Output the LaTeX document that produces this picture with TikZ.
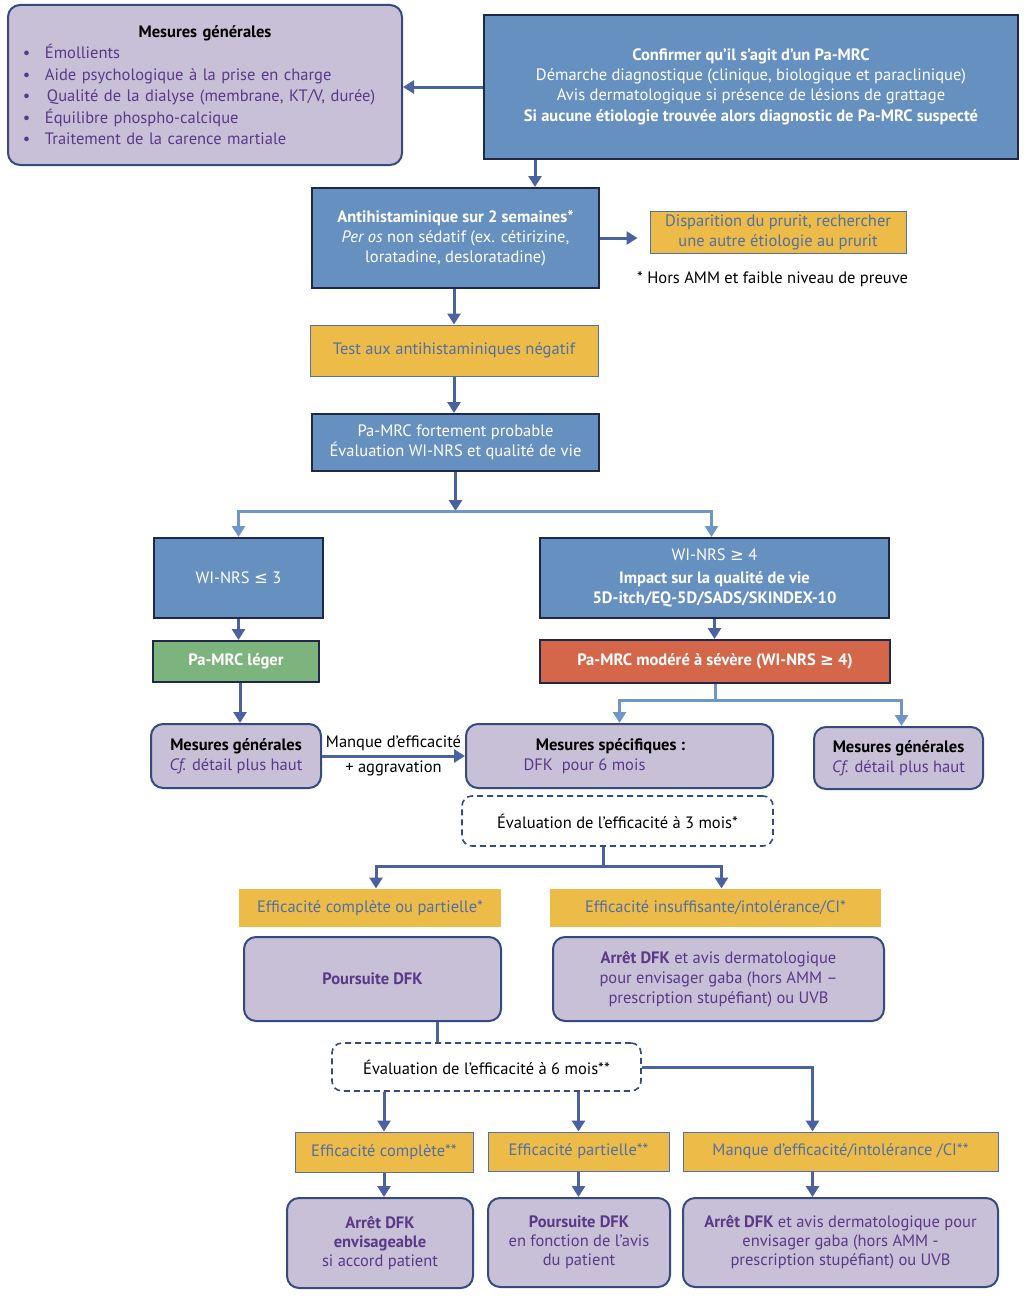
\documentclass[tikz,border=0pt]{standalone}
\usepackage{fontspec}
\setmainfont{PT Sans}
\newfontfamily\symfont{DejaVu Sans}
\usepackage{tikz}
\usetikzlibrary{arrows.meta}

\definecolor{boxblue}{RGB}{102,144,191}
\definecolor{navy}{RGB}{30,40,72}
\definecolor{lilac}{RGB}{199,192,214}
\definecolor{softline}{RGB}{52,74,128}
\definecolor{plum}{RGB}{92,56,136}
\definecolor{gold}{RGB}{236,187,72}
\definecolor{slate}{RGB}{82,112,162}
\definecolor{leaf}{RGB}{125,180,125}
\definecolor{brick}{RGB}{212,102,74}
\definecolor{arrowblue}{RGB}{74,98,160}
\definecolor{skyline}{RGB}{110,150,200}

\newcommand{\boxfont}{\fontsize{16.5}{20}\selectfont}
\newcommand{\leqsym}{{\symfont ≤}}
\newcommand{\geqsym}{{\symfont ≥}}

\begin{document}
\begin{tikzpicture}[x=1pt,y=-1pt]
        \tikzstyle{every node}=[inner sep=0pt, font=\boxfont]
        \tikzstyle{bluebox}=[draw=navy, line width=2pt, fill=boxblue, text=white, align=center]
        \tikzstyle{softbox}=[draw=softline, line width=2pt, fill=lilac, text=plum, rounded corners=12pt, align=center]
        \tikzstyle{goldbox}=[draw=slate, line width=1pt, fill=gold, text=slate, align=center]
        \tikzstyle{evalbox}=[draw=softline, line width=1.6pt, dash pattern=on 6pt off 4pt, rounded corners=10pt, fill=white, align=center]
        \tikzstyle{arr}=[draw=arrowblue, line width=3pt, -{Triangle[width=13pt,length=11pt]}]
        \tikzstyle{lightarr}=[draw=skyline, line width=3pt, -{Triangle[width=13pt,length=11pt]}]
        \tikzstyle{link}=[draw=arrowblue, line width=3pt]

        \fill[white] (0,0) rectangle (1027,1298);

        % top row
        \node[softbox, minimum width=394pt, minimum height=160pt, text width=372pt, align=left, font=\fontsize{16.5}{21.5}\selectfont] (gen1) at (205,85) {%
            \makebox[372pt][c]{\textcolor{black}{\bfseries Mesures générales}}\\
            \hspace*{4pt}\makebox[22pt][l]{\textbullet}Émollients\\
            \hspace*{4pt}\makebox[22pt][l]{\textbullet}Aide psychologique à la prise en charge\\
            \hspace*{4pt}\makebox[24pt][l]{\textbullet}Qualité de la dialyse (membrane, KT/V, durée)\\
            \hspace*{4pt}\makebox[22pt][l]{\textbullet}Équilibre phospho-calcique\\
            \hspace*{4pt}\makebox[22pt][l]{\textbullet}Traitement de la carence martiale};
        \node[bluebox, minimum width=534pt, minimum height=144pt] (confirm) at (751,87) {\textbf{Confirmer qu'il s'agit d'un Pa-MRC}\\ Démarche diagnostique (clinique, biologique et paraclinique)\\ Avis dermatologique si présence de lésions de grattage\\[1.5pt] \textbf{Si aucune étiologie trouvée alors diagnostic de Pa-MRC suspecté}};

        % antihistaminiques
        \node[bluebox, minimum width=287pt, minimum height=100pt] (antihist) at (455.5,238) {\textbf{Antihistaminique sur 2 semaines*}\\ \textit{Per os} non sédatif (ex. cétirizine,\\ loratadine, desloratadine)};
        \node[goldbox, minimum width=256pt, minimum height=42pt] (disp) at (778,232) {Disparition du prurit, rechercher\\ une autre étiologie au prurit};
        \node[anchor=west, text=black] (note) at (637,279) {* Hors AMM et faible niveau de preuve};
        \node[goldbox, minimum width=288pt, minimum height=51pt] (test) at (454,350.5) {Test aux antihistaminiques négatif};
        \node[bluebox, minimum width=287pt, minimum height=57pt] (probable) at (455.5,442.5) {Pa-MRC fortement probable\\ Évaluation WI-NRS et qualité de vie};

        % severite
        \node[bluebox, minimum width=169pt, minimum height=80pt] (winrs3) at (238.5,578) {WI-NRS \leqsym\ 3};
        \node[bluebox, minimum width=349pt, minimum height=80pt] (winrs4) at (714.5,578) {WI-NRS \geqsym\ 4\\[3pt] \textbf{Impact sur la qualité de vie}\\ \textbf{5D-itch/EQ-5D/SADS/SKINDEX-10}};
        \node[bluebox, fill=leaf, minimum width=166pt, minimum height=41pt] (leger) at (236,661.5) {\textbf{Pa-MRC léger}};
        \node[bluebox, fill=brick, minimum width=350pt, minimum height=43pt] (modere) at (715,661.5) {\textbf{Pa-MRC modéré à sévère (WI-NRS \geqsym\ 4)}};

        % mesures
        \node[softbox, minimum width=170pt, minimum height=64pt] (gen2) at (236,756) {\textcolor{black}{\textbf{Mesures générales}}\\ \textit{Cf.} détail plus haut};
        \node[softbox, minimum width=307pt, minimum height=64pt] (spec) at (619.5,756) {\textcolor{black}{\textbf{Mesures spécifiques :}}\hspace*{18pt}\\ DFK\ \ pour 6 mois\hspace*{70pt}};
        \node[softbox, minimum width=169pt, minimum height=62pt] (gen3) at (898.5,758) {\textcolor{black}{\textbf{Mesures générales}}\\ \textit{Cf.} détail plus haut};
        \node[evalbox, minimum width=311pt, minimum height=50pt] (eval3) at (617.5,821) {Évaluation de l'efficacité à 3 mois*};

        % 3 mois
        \node[goldbox, draw=none, minimum width=262pt, minimum height=38pt] (compl) at (370,908) {Efficacité complète ou partielle*};
        \node[goldbox, draw=none, minimum width=331pt, minimum height=38pt] (insuff) at (715.5,908) {Efficacité insuffisante/intolérance/CI*};
        \node[softbox, minimum width=257pt, minimum height=84pt] (poursuite) at (372.5,979) {\textbf{Poursuite DFK}};
        \node[softbox, minimum width=331pt, minimum height=84pt] (arret1) at (718.5,979) {\textbf{Arrêt DFK} et avis dermatologique\\ pour envisager gaba (hors AMM –\\ prescription stupéfiant) ou UVB};
        \node[evalbox, minimum width=309pt, minimum height=48pt] (eval6) at (486.5,1067) {Évaluation de l'efficacité à 6 mois**};

        % 6 mois
        \node[goldbox, minimum width=178pt, minimum height=40pt] (ec) at (384,1152) {Efficacité complète**};
        \node[goldbox, minimum width=181pt, minimum height=39pt] (ep) at (578.5,1151.5) {Efficacité partielle**};
        \node[goldbox, minimum width=315pt, minimum height=39pt] (mi) at (840.5,1151.5) {Manque d’efficacité/intolérance /CI**};
        \node[softbox, minimum width=186pt, minimum height=90pt, font=\fontsize{16.5}{19}\selectfont] (r1) at (380,1243) {\textbf{Arrêt DFK}\\ \textbf{envisageable}\\ si accord patient};
        \node[softbox, minimum width=182pt, minimum height=89pt, font=\fontsize{16.5}{19}\selectfont] (r2) at (579,1242.5) {\textbf{Poursuite DFK}\\ en fonction de l'avis\\ du patient};
        \node[softbox, minimum width=315pt, minimum height=89pt, font=\fontsize{16.5}{19}\selectfont] (r3) at (840.5,1242.5) {\textbf{Arrêt DFK} et avis dermatologique pour\\ envisager gaba (hors AMM -\\ prescription stupéfiant) ou UVB};

        % connectors
        \draw[arr] (confirm.west) -- (confirm.west -| gen1.east);
        \draw[arr] (confirm.south -| 535,0) -- (antihist.north -| 535,0);
        \draw[arr, shorten >=12pt] (antihist.east) -- (antihist.east -| disp.west);
        \draw[arr] (test.north |- antihist.south) -- (test.north);
        \draw[arr] (test.south) -- (test.south |- probable.north);

        \coordinate (fork1) at (455.5,511);
        \draw[arr] (probable.south) -- (probable.south |- fork1);
        \draw[lightarr] (fork1) -| (winrs3.north);
        \draw[lightarr] (fork1) -| ([xshift=-3pt]winrs4.north);
        \draw[arr] (winrs3.south) -- (winrs3.south |- leger.north);
        \draw[arr] (winrs4.south) -- (winrs4.south |- modere.north);
        \draw[arr] ([xshift=4pt]leger.south) -- ([xshift=4pt]leger.south |- gen2.north);
        \draw[arr] (gen2.east) -- node[above=4pt, text=black] {Manque d'efficacité} node[below=3pt, text=black] {+ aggravation} (gen2.east -| spec.west);

        \coordinate (fork2) at (715,700);
        \draw[lightarr] (modere.south) -- (fork2) -| (spec.north);
        \draw[lightarr] (fork2) -| ([xshift=3pt]gen3.north);

        \coordinate (fork3) at (603,866);
        \draw[arr] (eval3.south -| fork3) -- (fork3) -| ([xshift=6pt]compl.north);
        \draw[arr] (fork3) -| ([xshift=6pt]insuff.north);

        \draw[link] (poursuite.south -| 437,0) -- (eval6.north -| 437,0);
        \draw[arr] (ec.north |- eval6.south) -- (ec.north);
        \draw[arr] (ep.north |- eval6.south) -- (ep.north);
        \draw[arr] (eval6.east) -| ([xshift=-28pt]mi.north);
        \draw[arr] (ec.south) -- (ec.south |- r1.north);
        \draw[arr] (ep.south) -- (ep.south |- r2.north);
        \draw[arr] ([xshift=-28pt]mi.south) -- ([xshift=-28pt]mi.south |- r3.north);
\end{tikzpicture}
\end{document}
